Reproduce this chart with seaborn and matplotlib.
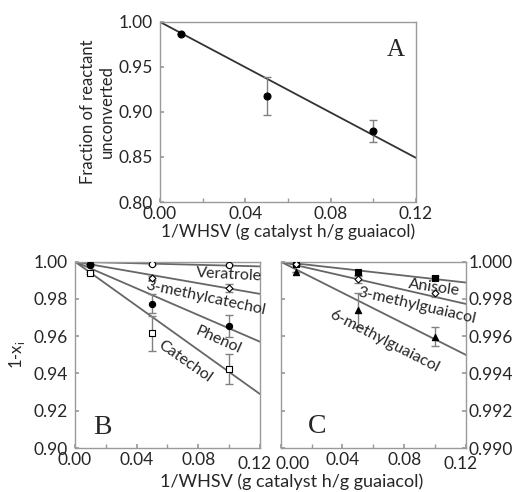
import numpy as np
import matplotlib
matplotlib.use("Agg")
import matplotlib.pyplot as plt
from matplotlib.ticker import MultipleLocator
import seaborn as sns

# ---- data -------------------------------------------------------------
x_pts = [0.01, 0.05, 0.10]
x_fit = [0.0, 0.12]
x_ticks = [0.0, 0.04, 0.08, 0.12]

# panel A: guaiacol
a_y = [0.987, 0.918, 0.879]
a_err = [0.0, 0.021, 0.012]
a_slope = -1.258

# panel B
b_names = ["Veratrole", "3-methylcatechol", "Phenol", "Catechol"]
b_y = {
    "Veratrole": [0.9988, 0.9986, 0.9982],
    "3-methylcatechol": [0.9990, 0.9914, 0.9860],
    "Phenol": [0.9980, 0.9775, 0.9655],
    "Catechol": [0.9938, 0.9615, 0.9425],
}
b_err = {
    "Veratrole": [0.0, 0.0003, 0.0003],
    "3-methylcatechol": [0.0, 0.0010, 0.0020],
    "Phenol": [0.0005, 0.0050, 0.0060],
    "Catechol": [0.0005, 0.0095, 0.0080],
}
b_slope = {"Veratrole": -0.021, "3-methylcatechol": -0.144,
           "Phenol": -0.358, "Catechol": -0.592}

# panel C
c_names = ["Anisole", "3-methylguaiacol", "6-methylguaiacol"]
c_y = {
    "Anisole": [0.99988, 0.99943, 0.99914],
    "3-methylguaiacol": [0.99985, 0.99905, 0.99830],
    "6-methylguaiacol": [0.99946, 0.99741, 0.99598],
}
c_err = {
    "Anisole": [0.0, 0.00012, 0.00010],
    "3-methylguaiacol": [0.0, 0.00020, 0.00020],
    "6-methylguaiacol": [0.0, 0.00090, 0.00050],
}
c_slope = {"Anisole": -0.00933, "3-methylguaiacol": -0.0189,
           "6-methylguaiacol": -0.0417}

# ---- styles -----------------------------------------------------------
markers = {
    "Veratrole": ("o", "white"), "3-methylcatechol": ("D", "white"),
    "Phenol": ("o", "black"), "Catechol": ("s", "white"),
    "Anisole": ("s", "black"), "3-methylguaiacol": ("D", "white"),
    "6-methylguaiacol": ("^", "black"),
}
labels_b = {
    "Veratrole": (0.1000, 0.9930, -3),
    "3-methylcatechol": (0.0850, 0.9808, -12),
    "Phenol": (0.0931, 0.9580, -24),
    "Catechol": (0.0714, 0.9464, -35),
}
labels_c = {
    "Anisole": (0.0993, 0.99862, -8),
    "3-methylguaiacol": (0.0883, 0.99765, -13),
    "6-methylguaiacol": (0.0669, 0.99575, -27),
}

sns.set_theme(style="ticks")
plt.rcParams["font.family"] = ["Lato", "DejaVu Sans"]
plt.rcParams["mathtext.fontset"] = "custom"
plt.rcParams["mathtext.rm"] = "Lato"

fig = plt.figure(figsize=(5.15, 4.92), dpi=100)
ax_a = fig.add_axes([0.3107, 0.5894, 0.497, 0.366])
ax_b = fig.add_axes([0.1456, 0.0894, 0.3592, 0.3787])
ax_c = fig.add_axes([0.545, 0.0894, 0.3598, 0.3787])

frame = "#9a9a9a"
line_col = "#666666"
err_col = "#808080"
serif = ["Liberation Serif", "DejaVu Serif"]
tick_fs = 12.5


def style_axes(ax, labels=None):
    for sp in ax.spines.values():
        sp.set_color(frame)
        sp.set_linewidth(1.0)
    ax.set_xlim(0, 0.12)
    ax.set_xticks(x_ticks)
    ax.set_xticklabels(labels or [f"{v:.2f}" for v in x_ticks])
    ax.xaxis.set_minor_locator(MultipleLocator(0.02))
    ax.tick_params(which="both", direction="in", length=3, color=frame,
                   labelsize=tick_fs)
    ax.tick_params(axis="x", pad=3)
    ax.tick_params(axis="y", pad=5)


def draw_series(ax, y, err, slope, marker, face, lc, ms=5):
    fy = [1 + slope * v for v in x_fit]
    sns.lineplot(x=x_fit, y=fy, ax=ax, color=lc, lw=1.3, zorder=2)
    ax.errorbar(x_pts, y, yerr=err, fmt="none", ecolor=err_col, elinewidth=1.0,
                capsize=3, capthick=1.0, zorder=3)
    sns.scatterplot(x=x_pts, y=y, ax=ax, marker=marker, color=face,
                    edgecolor="black", linewidth=0.8, s=ms ** 2, zorder=4)


def shifted_tick_label(ax, xval, dx):
    # tick label placed with a small sideways nudge (neighbouring panels)
    ax.annotate(f"{xval:.2f}", xy=(xval, 0), xycoords=ax.get_xaxis_transform(),
                xytext=(dx, -3 - 3), textcoords="offset points",
                ha="center", va="top", fontsize=tick_fs)


# panel A
style_axes(ax_a)
draw_series(ax_a, a_y, a_err, a_slope, "o", "black", "#333333")
ax_a.set_ylim(0.80, 1.00)
a_yt = [0.80, 0.85, 0.90, 0.95, 1.00]
ax_a.set_yticks(a_yt)
ax_a.set_yticklabels([f"{v:.2f}" for v in a_yt])
ax_a.set_ylabel("Fraction of reactant\nunconverted", fontsize=12, labelpad=3)
ax_a.set_xlabel("1/WHSV (g catalyst h/g guaiacol)", fontsize=12.5, labelpad=1)
ax_a.text(0.92, 0.845, "A", transform=ax_a.transAxes, ha="center", va="center",
          fontsize=18, family=serif)

# panel B
style_axes(ax_b, labels=[f"{v:.2f}" for v in x_ticks[:-1]] + [""])
shifted_tick_label(ax_b, x_ticks[-1], -4)
for name in b_names:
    m, f = markers[name]
    draw_series(ax_b, b_y[name], b_err[name], b_slope[name], m, f, line_col,
                ms=4.5 if m != "D" else 3.5)
    lx, ly, rot = labels_b[name]
    ax_b.text(lx, ly, name, rotation=rot, ha="center", va="center",
              fontsize=11.5, rotation_mode="anchor")
ax_b.set_ylim(0.90, 1.00)
b_yt = [0.90, 0.92, 0.94, 0.96, 0.98, 1.00]
ax_b.set_yticks(b_yt)
ax_b.set_yticklabels([f"{v:.2f}" for v in b_yt])
ax_b.set_ylabel("1-x$_\\mathrm{i}$", fontsize=12, labelpad=5)
ax_b.text(0.018, 0.911, "B", ha="center", va="center", fontsize=20, family=serif)

# panel C
style_axes(ax_c, labels=[""] + [f"{v:.2f}" for v in x_ticks[1:-1]] + [""])
shifted_tick_label(ax_c, x_ticks[0], 8.5)
shifted_tick_label(ax_c, x_ticks[-1], -4)
for name in c_names:
    m, f = markers[name]
    draw_series(ax_c, c_y[name], c_err[name], c_slope[name], m, f, line_col,
                ms=4.5 if m != "D" else 3.5)
    lx, ly, rot = labels_c[name]
    ax_c.text(lx, ly, name, rotation=rot, ha="center", va="center",
              fontsize=11.5, rotation_mode="anchor")
ax_c.set_ylim(0.990, 1.000)
c_yt = [0.990, 0.992, 0.994, 0.996, 0.998, 1.000]
ax_c.set_yticks(c_yt)
ax_c.set_yticklabels([f"{v:.3f}" for v in c_yt])
ax_c.yaxis.tick_right()
ax_c.tick_params(axis="y", which="both", left=True, right=True, pad=2)
ax_c.text(0.0235, 0.99113, "C", ha="center", va="center", fontsize=20,
          family=serif)

fig.text(0.566, 0.020, "1/WHSV (g catalyst h/g guaiacol)", ha="center",
         va="center", fontsize=13)

fig.savefig("out.png", dpi=100)
